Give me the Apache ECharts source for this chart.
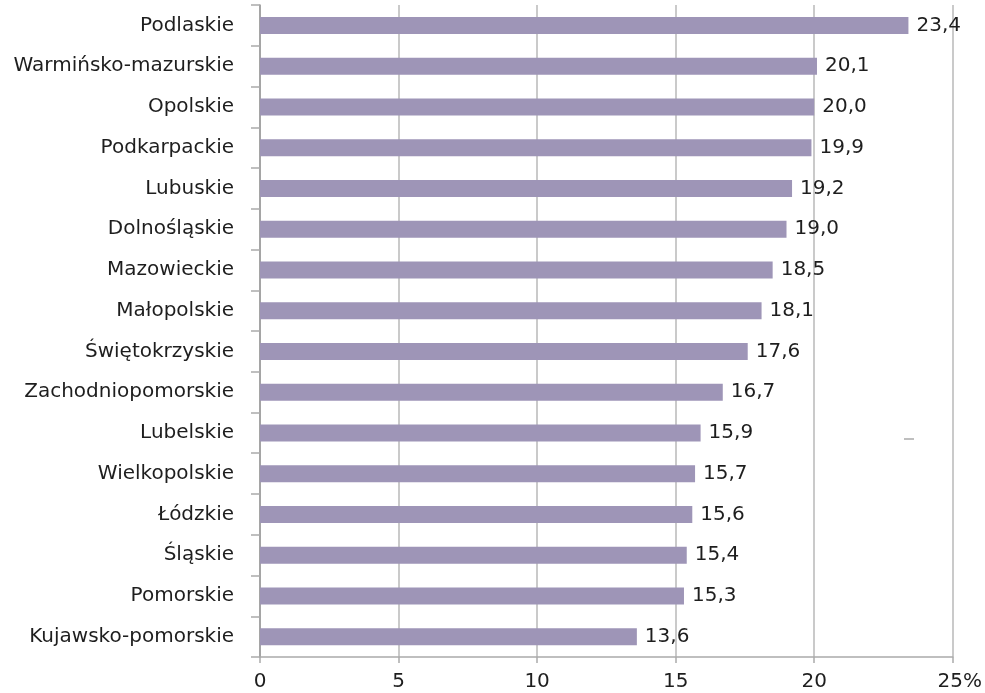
<!DOCTYPE html>
<html>
<head>
<meta charset="utf-8">
<script src="https://cdn.jsdelivr.net/npm/echarts@6/dist/echarts.min.js"></script>
<style>
  html, body { margin: 0; padding: 0; background: #fff; }
  #chart { width: 985px; height: 693px; }
</style>
</head>
<body>
<div id="chart"></div>
<script>
// Regions (voivodeships), top to bottom
const regions = [
  'Podlaskie', 'Warmińsko-mazurskie', 'Opolskie', 'Podkarpackie', 'Lubuskie',
  'Dolnośląskie', 'Mazowieckie', 'Małopolskie', 'Świętokrzyskie',
  'Zachodniopomorskie', 'Lubelskie', 'Wielkopolskie', 'Łódzkie', 'Śląskie',
  'Pomorskie', 'Kujawsko-pomorskie'
];
// Share in percent
const shares = [23.4, 20.1, 20.0, 19.9, 19.2, 19.0, 18.5, 18.1, 17.6, 16.7, 15.9, 15.7, 15.6, 15.4, 15.3, 13.6];
// Value axis ticks
const xTicks = [0, 5, 10, 15, 20, 25];

const FONT = 'DejaVu Sans';
const chart = echarts.init(document.getElementById('chart'));

chart.setOption({
  animation: false,
  textStyle: { fontFamily: FONT },
  grid: { left: 260, right: 31, top: 5, bottom: 36, containLabel: false },
  xAxis: {
    type: 'value',
    min: xTicks[0],
    max: xTicks[xTicks.length - 1],
    interval: xTicks[1] - xTicks[0],
    axisLine: { show: true, lineStyle: { color: '#aaa', width: 1.5 } },
    axisTick: { show: true, length: 6, lineStyle: { color: '#aaa', width: 1.5 } },
    splitLine: { show: true, lineStyle: { color: '#b8b8b8', width: 1.5 } },
    axisLabel: {
      margin: 15,
      fontSize: 20,
      color: '#1e1e1e',
      fontFamily: FONT,
      formatter: v => v === 25 ? '{pct|25%}' : String(v),
      rich: { pct: { fontSize: 20, color: '#1e1e1e', fontFamily: FONT, padding: [0, 0, 0, 14] } }
    }
  },
  yAxis: {
    type: 'category',
    data: regions,
    inverse: true,
    axisLine: { show: true, lineStyle: { color: '#999', width: 1.5 } },
    axisTick: { show: true, length: 9, interval: 0, lineStyle: { color: '#aaa', width: 1.5 } },
    axisLabel: { margin: 26, fontSize: 20, color: '#1e1e1e', fontFamily: FONT, padding: [3, 0, 0, 0] }
  },
  series: [{
    type: 'bar',
    data: shares,
    barWidth: 17,
    itemStyle: { color: '#9e95b7' },
    label: {
      show: true,
      position: 'right',
      distance: 8,
      fontSize: 20,
      color: '#1e1e1e',
      fontFamily: FONT,
      padding: [3, 0, 0, 0],
      formatter: p => p.value.toFixed(1).replace('.', ',')
    }
  }],
  graphic: [{
    type: 'line',
    shape: { x1: 904, y1: 439, x2: 914, y2: 439 },
    style: { stroke: '#aaa', lineWidth: 1.5 }
  }]
});
</script>
</body>
</html>
